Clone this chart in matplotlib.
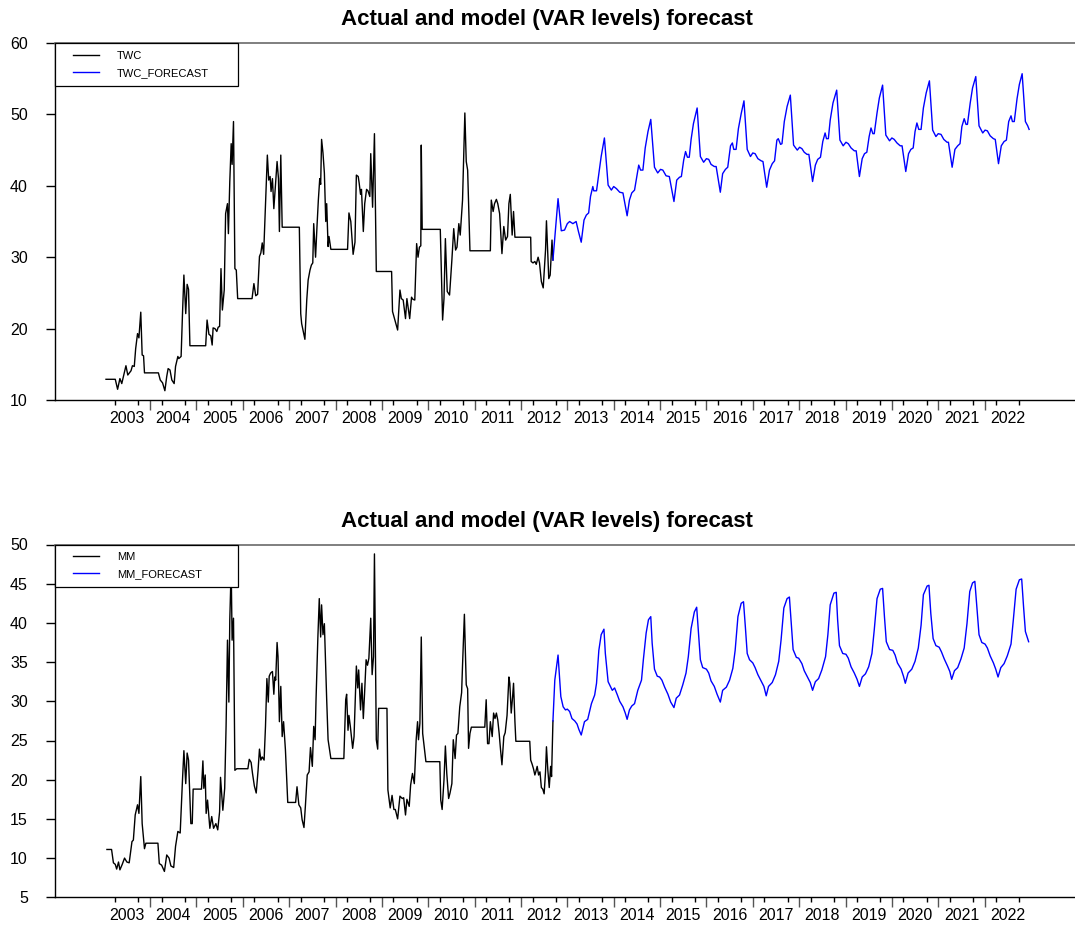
import matplotlib
matplotlib.use('Agg')
import matplotlib.pyplot as plt
from matplotlib.lines import Line2D
from matplotlib.legend_handler import HandlerLine2D

plt.rcParams['font.family'] = ['Liberation Sans', 'DejaVu Sans']

# ---- TWC: actual ----
twc_dates = [2003.05, 2003.25, 2003.30, 2003.35, 2003.39, 2003.48, 2003.52, 2003.59, 2003.62, 2003.66,
             2003.69, 2003.73, 2003.76, 2003.80, 2003.83, 2003.86, 2003.88,
             2004.18, 2004.22, 2004.27, 2004.32, 2004.36, 2004.39, 2004.43, 2004.47, 2004.52, 2004.55,
             2004.60, 2004.62, 2004.67, 2004.70, 2004.73, 2004.77, 2004.80, 2004.83, 2004.86,
             2005.20, 2005.23, 2005.27, 2005.31, 2005.34, 2005.36, 2005.40, 2005.44, 2005.47, 2005.50,
             2005.53, 2005.56, 2005.60, 2005.63, 2005.67, 2005.69, 2005.72, 2005.75, 2005.77, 2005.80,
             2005.83, 2005.86, 2005.89,
             2006.20, 2006.24, 2006.28, 2006.32, 2006.36, 2006.39, 2006.42, 2006.45, 2006.48, 2006.53,
             2006.56, 2006.59, 2006.61, 2006.64, 2006.67, 2006.71, 2006.74, 2006.77, 2006.79, 2006.82, 2006.85,
             2007.22, 2007.25, 2007.27, 2007.34, 2007.38, 2007.41, 2007.45, 2007.48, 2007.51, 2007.53,
             2007.57, 2007.60, 2007.63, 2007.66, 2007.68, 2007.70, 2007.73, 2007.76, 2007.79, 2007.81,
             2007.84, 2007.86, 2007.90,
             2008.26, 2008.29, 2008.33, 2008.38, 2008.42, 2008.45, 2008.49, 2008.51, 2008.54, 2008.56,
             2008.60, 2008.63, 2008.67, 2008.70, 2008.74, 2008.76, 2008.80, 2008.84, 2008.88,
             2009.21, 2009.23, 2009.28, 2009.34, 2009.39, 2009.42, 2009.46, 2009.51, 2009.54, 2009.60,
             2009.64, 2009.67, 2009.71, 2009.75, 2009.78, 2009.81, 2009.84, 2009.85, 2009.87,
             2010.26, 2010.31, 2010.34, 2010.37, 2010.41, 2010.46, 2010.51, 2010.55, 2010.59, 2010.62,
             2010.66, 2010.69, 2010.74, 2010.79, 2010.82, 2010.85, 2010.90,
             2011.34, 2011.36, 2011.40, 2011.43, 2011.47, 2011.50, 2011.54, 2011.59, 2011.63, 2011.67,
             2011.71, 2011.74, 2011.77, 2011.81, 2011.84, 2011.87,
             2012.21, 2012.22, 2012.26, 2012.30, 2012.33, 2012.37, 2012.40, 2012.44, 2012.48, 2012.53,
             2012.55, 2012.60, 2012.63, 2012.67, 2012.69]
twc_vals = [12.9, 12.9, 11.5, 13.0, 12.3, 14.8, 13.5, 14.1, 14.8, 14.7, 17.2, 19.3, 18.7, 22.3, 16.3, 16.2, 13.8,
            13.8, 12.8, 12.4, 11.3, 13.3, 14.4, 14.2, 12.8, 12.3, 14.7, 16.1, 15.8, 16.1, 22.1, 27.5, 22.1,
            26.2, 25.5, 17.6,
            17.6, 21.2, 19.2, 19.0, 17.7, 20.1, 20.0, 19.6, 20.2, 20.3, 28.4, 22.6, 25.4, 36.1, 37.5, 33.3,
            40.6, 45.9, 43.0, 49.0, 28.4, 28.2, 24.2,
            24.2, 26.3, 24.6, 24.8, 30.1, 30.6, 32.0, 30.4, 35.7, 44.3, 40.8, 41.3, 39.2, 41.0, 36.8, 40.6,
            43.4, 41.0, 33.6, 44.3, 34.2,
            34.2, 22.1, 20.7, 18.5, 24.0, 26.8, 28.2, 28.9, 29.2, 34.7, 30.0, 34.2, 38.0, 41.0, 40.2, 46.5,
            44.6, 41.8, 35.0, 37.5, 31.5, 32.9, 31.1,
            31.1, 36.2, 35.0, 30.4, 32.1, 41.5, 41.3, 40.4, 38.8, 39.5, 33.6, 37.5, 39.5, 39.3, 38.5, 44.5,
            37.0, 47.3, 28.0,
            28.0, 22.4, 21.2, 19.8, 25.4, 24.2, 24.0, 21.4, 24.2, 21.4, 24.4, 24.1, 24.0, 31.9, 30.0, 31.4,
            31.6, 45.7, 33.9,
            33.9, 21.2, 24.2, 32.6, 25.2, 24.7, 29.6, 34.0, 31.0, 31.4, 34.7, 33.1, 38.0, 50.2, 43.4, 42.2, 30.9,
            30.9, 38.0, 36.4, 37.5, 38.1, 37.5, 36.1, 30.5, 34.3, 32.4, 32.9, 37.5, 38.8, 33.1, 36.4, 32.8,
            32.8, 29.4, 29.2, 29.4, 29.0, 30.0, 29.2, 26.6, 25.7, 31.0, 35.1, 27.0, 27.5, 32.4, 29.6]

# ---- TWC: forecast ----
twc_fc_dates = [2012.69, 2012.80, 2012.87, 2012.94, 2013.00, 2013.05, 2013.12, 2013.19, 2013.24, 2013.30,
                2013.36, 2013.41, 2013.46, 2013.50, 2013.55, 2013.57, 2013.63, 2013.68, 2013.73, 2013.80,
                2013.88, 2013.95,
                2014.00, 2014.06, 2014.13, 2014.20, 2014.29, 2014.34, 2014.39, 2014.45, 2014.51, 2014.54,
                2014.58, 2014.63, 2014.68, 2014.74, 2014.80, 2014.88, 2014.95,
                2015.01, 2015.06, 2015.13, 2015.20, 2015.30, 2015.36, 2015.42, 2015.46, 2015.51, 2015.55,
                2015.59, 2015.63, 2015.67, 2015.72, 2015.80, 2015.87, 2015.94,
                2016.00, 2016.05, 2016.10, 2016.17, 2016.21, 2016.30, 2016.35, 2016.41, 2016.46, 2016.52,
                2016.56, 2016.59, 2016.64, 2016.69, 2016.75, 2016.81, 2016.88, 2016.95,
                2017.00, 2017.05, 2017.11, 2017.18, 2017.22, 2017.30, 2017.36, 2017.42, 2017.47, 2017.52,
                2017.55, 2017.60, 2017.63, 2017.68, 2017.74, 2017.81, 2017.88, 2017.96,
                2018.01, 2018.06, 2018.11, 2018.17, 2018.21, 2018.29, 2018.35, 2018.40, 2018.46, 2018.51,
                2018.56, 2018.59, 2018.63, 2018.67, 2018.73, 2018.81, 2018.88, 2018.95,
                2019.01, 2019.06, 2019.12, 2019.19, 2019.23, 2019.30, 2019.36, 2019.41, 2019.46, 2019.51,
                2019.55, 2019.59, 2019.62, 2019.68, 2019.73, 2019.80, 2019.87, 2019.95,
                2020.00, 2020.05, 2020.11, 2020.18, 2020.22, 2020.30, 2020.36, 2020.41, 2020.46, 2020.50,
                2020.54, 2020.58, 2020.63, 2020.68, 2020.74, 2020.81, 2020.88, 2020.95,
                2021.00, 2021.06, 2021.12, 2021.19, 2021.22, 2021.30, 2021.36, 2021.42, 2021.47, 2021.51,
                2021.56, 2021.60, 2021.63, 2021.69, 2021.74, 2021.81, 2021.88, 2021.96,
                2022.01, 2022.06, 2022.12, 2022.19, 2022.23, 2022.30, 2022.36, 2022.42, 2022.47, 2022.52,
                2022.57, 2022.60, 2022.64, 2022.70, 2022.75, 2022.81, 2022.88, 2022.93, 2022.96]
twc_fc_vals = [29.6, 38.2, 33.7, 33.8, 34.7, 35.0, 34.7, 35.0, 33.6, 32.1, 35.2, 35.9, 36.2, 38.5, 39.9, 39.3,
               39.3, 41.7, 44.1, 46.7, 40.1, 39.4,
               39.9, 39.6, 39.1, 39.0, 35.8, 38.0, 39.0, 39.4, 41.7, 42.9, 42.2, 42.2, 45.3, 47.6, 49.3, 42.6, 41.8,
               42.3, 42.2, 41.4, 41.3, 37.8, 40.8, 41.2, 41.3, 43.6, 44.8, 44.0, 44.0, 46.5, 48.7, 50.9, 44.1, 43.3,
               43.8, 43.7, 43.0, 42.7, 42.7, 39.1, 41.7, 42.3, 42.6, 45.6, 46.0, 45.1, 45.1, 48.0, 50.1, 51.9,
               45.1, 44.1,
               44.6, 44.5, 43.8, 43.5, 43.4, 39.8, 42.2, 43.1, 43.5, 46.4, 46.6, 45.8, 45.9, 49.0, 51.1, 52.7,
               45.7, 45.0,
               45.4, 45.2, 44.7, 44.4, 44.4, 40.6, 42.9, 43.7, 44.0, 46.2, 47.4, 46.6, 46.6, 49.2, 51.6, 53.4,
               46.4, 45.6,
               46.1, 45.9, 45.3, 44.9, 44.9, 41.3, 43.8, 44.5, 44.7, 46.9, 48.1, 47.3, 47.3, 50.2, 52.3, 54.1,
               47.1, 46.3,
               46.7, 46.5, 46.0, 45.6, 45.6, 42.0, 44.5, 45.1, 45.3, 47.6, 48.8, 47.9, 47.9, 50.9, 53.0, 54.7,
               47.8, 46.9,
               47.3, 47.2, 46.5, 46.1, 46.1, 42.6, 45.1, 45.6, 45.9, 48.3, 49.4, 48.6, 48.6, 51.6, 53.7, 55.3,
               48.4, 47.4,
               47.8, 47.7, 47.0, 46.6, 46.5, 43.1, 45.6, 46.2, 46.4, 49.0, 49.8, 49.0, 49.0, 52.2, 54.2, 55.7,
               49.0, 48.4, 47.9]

# ---- MM: actual ----
mm_dates = [2003.07, 2003.17, 2003.21, 2003.25, 2003.28, 2003.32, 2003.35, 2003.40, 2003.45, 2003.50,
            2003.55, 2003.61, 2003.64, 2003.68, 2003.73, 2003.76, 2003.80, 2003.83, 2003.88, 2003.91,
            2004.17, 2004.20, 2004.25, 2004.31, 2004.36, 2004.41, 2004.45, 2004.51, 2004.55, 2004.60,
            2004.65, 2004.70, 2004.73, 2004.77, 2004.80, 2004.83, 2004.88, 2004.91, 2004.93,
            2005.11, 2005.14, 2005.16, 2005.19, 2005.21, 2005.24, 2005.29, 2005.33, 2005.37, 2005.42,
            2005.46, 2005.50, 2005.52, 2005.57, 2005.61, 2005.64, 2005.67, 2005.70, 2005.72, 2005.75,
            2005.77, 2005.80, 2005.83, 2005.87,
            2006.11, 2006.14, 2006.18, 2006.21, 2006.25, 2006.29, 2006.33, 2006.36, 2006.39, 2006.42,
            2006.46, 2006.49, 2006.52, 2006.55, 2006.57, 2006.60, 2006.64, 2006.67, 2006.69, 2006.71,
            2006.74, 2006.76, 2006.79, 2006.82, 2006.85, 2006.88, 2006.92, 2006.97,
            2007.14, 2007.17, 2007.21, 2007.25, 2007.28, 2007.32, 2007.35, 2007.39, 2007.43, 2007.46,
            2007.50, 2007.53, 2007.56, 2007.58, 2007.62, 2007.65, 2007.68, 2007.70, 2007.73, 2007.76,
            2007.81, 2007.84, 2007.90,
            2008.18, 2008.22, 2008.24, 2008.27, 2008.29, 2008.32, 2008.37, 2008.40, 2008.45, 2008.48,
            2008.50, 2008.54, 2008.57, 2008.60, 2008.63, 2008.66, 2008.69, 2008.72, 2008.76, 2008.79,
            2008.82, 2008.84, 2008.88, 2008.91, 2008.93,
            2009.11, 2009.13, 2009.18, 2009.22, 2009.26, 2009.29, 2009.34, 2009.39, 2009.44, 2009.47,
            2009.51, 2009.54, 2009.59, 2009.62, 2009.66, 2009.70, 2009.74, 2009.77, 2009.79, 2009.82,
            2009.85, 2009.88, 2009.93, 2009.95,
            2010.25, 2010.27, 2010.30, 2010.34, 2010.37, 2010.40, 2010.44, 2010.47, 2010.51, 2010.54,
            2010.58, 2010.61, 2010.64, 2010.68, 2010.72, 2010.74, 2010.78, 2010.82, 2010.85, 2010.87,
            2010.90, 2010.93,
            2011.22, 2011.25, 2011.28, 2011.31, 2011.34, 2011.38, 2011.41, 2011.44, 2011.47, 2011.50,
            2011.53, 2011.56, 2011.59, 2011.63, 2011.66, 2011.70, 2011.74, 2011.76, 2011.79, 2011.82,
            2011.84, 2011.87, 2011.89,
            2012.19, 2012.21, 2012.24, 2012.27, 2012.30, 2012.32, 2012.35, 2012.38, 2012.41, 2012.44,
            2012.47, 2012.50, 2012.53, 2012.55, 2012.58, 2012.61, 2012.64, 2012.66, 2012.69]
mm_vals = [11.1, 11.1, 9.4, 9.2, 8.6, 9.5, 8.5, 9.2, 10.0, 9.5, 9.4, 12.1, 12.3, 15.5, 16.8, 15.7, 20.4,
           14.4, 11.2, 11.9,
           11.9, 9.3, 9.1, 8.3, 10.4, 10.0, 9.0, 8.8, 11.5, 13.4, 13.2, 20.0, 23.7, 19.5, 23.4, 22.5, 14.4,
           14.4, 18.8,
           18.8, 22.4, 18.9, 20.6, 15.7, 17.4, 13.8, 15.3, 13.8, 14.4, 13.6, 15.9, 20.3, 16.1, 18.9, 26.8,
           37.8, 29.9, 40.4, 47.0, 37.8, 40.6, 21.2, 21.4,
           21.4, 22.6, 22.2, 20.8, 19.2, 18.3, 21.2, 23.9, 22.5, 22.9, 22.5, 26.8, 32.9, 29.9, 33.2, 33.6,
           33.8, 30.9, 33.1, 32.7, 37.5, 35.7, 27.4, 31.9, 25.5, 27.4, 23.8, 17.1,
           17.1, 19.1, 16.8, 16.4, 14.9, 13.9, 16.6, 20.6, 21.0, 24.1, 21.7, 26.8, 25.1, 30.2, 38.2, 43.1,
           38.2, 42.3, 38.5, 39.9, 30.2, 25.1, 22.7,
           22.7, 30.2, 30.9, 26.3, 28.2, 26.8, 24.0, 25.5, 34.5, 31.7, 34.0, 28.9, 32.3, 27.8, 31.4, 35.3,
           34.6, 35.5, 40.6, 33.4, 35.7, 48.8, 25.1, 23.9, 29.1,
           29.1, 18.7, 16.4, 18.0, 16.2, 16.2, 15.0, 17.9, 17.6, 17.7, 15.5, 17.5, 16.6, 19.3, 20.8, 19.5,
           25.1, 27.4, 25.1, 27.2, 38.2, 25.9, 23.4, 22.3,
           22.3, 17.4, 16.2, 20.0, 24.3, 20.8, 17.6, 18.3, 19.5, 25.1, 22.7, 25.7, 25.9, 29.3, 31.1, 34.6,
           41.1, 32.1, 31.6, 24.0, 25.9, 26.7,
           26.7, 30.2, 24.6, 24.6, 27.4, 25.5, 28.5, 27.8, 28.5, 27.6, 25.9, 23.8, 21.9, 25.5, 26.0, 28.2,
           33.1, 32.3, 28.5, 30.6, 32.3, 27.4, 24.9,
           24.9, 22.5, 22.0, 21.4, 20.6, 21.0, 21.7, 20.6, 21.0, 19.0, 18.8, 18.2, 21.0, 24.2, 21.2, 19.0,
           21.7, 20.4, 27.5]

# ---- MM: forecast ----
mm_fc_dates = [2012.69, 2012.73, 2012.80, 2012.86, 2012.91, 2012.96,
               2013.00, 2013.05, 2013.10, 2013.16, 2013.21, 2013.25, 2013.30, 2013.37, 2013.44, 2013.52,
               2013.59, 2013.63, 2013.68, 2013.73, 2013.79, 2013.82, 2013.88, 2013.93, 2013.97,
               2014.02, 2014.08, 2014.13, 2014.20, 2014.25, 2014.29, 2014.34, 2014.39, 2014.45, 2014.52,
               2014.60, 2014.64, 2014.70, 2014.75, 2014.80, 2014.83, 2014.88, 2014.94, 2014.99,
               2015.04, 2015.10, 2015.17, 2015.23, 2015.30, 2015.35, 2015.42, 2015.49, 2015.56, 2015.61,
               2015.67, 2015.74, 2015.79, 2015.83, 2015.87, 2015.92,
               2016.00, 2016.05, 2016.10, 2016.17, 2016.23, 2016.30, 2016.35, 2016.43, 2016.50, 2016.57,
               2016.62, 2016.68, 2016.75, 2016.80, 2016.84, 2016.88, 2016.93,
               2017.00, 2017.05, 2017.11, 2017.18, 2017.24, 2017.29, 2017.34, 2017.42, 2017.49, 2017.56,
               2017.61, 2017.67, 2017.74, 2017.79, 2017.83, 2017.87, 2017.94, 2017.99,
               2018.06, 2018.11, 2018.18, 2018.24, 2018.29, 2018.35, 2018.42, 2018.49, 2018.57, 2018.62,
               2018.67, 2018.75, 2018.80, 2018.83, 2018.87, 2018.94,
               2019.01, 2019.06, 2019.12, 2019.19, 2019.25, 2019.30, 2019.36, 2019.43, 2019.50, 2019.57,
               2019.62, 2019.68, 2019.75, 2019.80, 2019.84, 2019.88, 2019.95,
               2020.02, 2020.07, 2020.12, 2020.20, 2020.25, 2020.29, 2020.35, 2020.43, 2020.50, 2020.57,
               2020.63, 2020.68, 2020.76, 2020.80, 2020.84, 2020.89, 2020.95,
               2021.02, 2021.07, 2021.13, 2021.20, 2021.25, 2021.29, 2021.35, 2021.42, 2021.49, 2021.56,
               2021.62, 2021.68, 2021.74, 2021.79, 2021.84, 2021.88, 2021.94,
               2022.01, 2022.06, 2022.12, 2022.19, 2022.24, 2022.29, 2022.35, 2022.42, 2022.49, 2022.57,
               2022.62, 2022.68, 2022.75, 2022.80, 2022.84, 2022.88, 2022.93, 2022.95]
mm_fc_vals = [27.5, 32.7, 35.9, 30.6, 29.3, 28.9,
              29.0, 28.7, 27.8, 27.5, 27.1, 26.4, 25.7, 27.4, 27.7, 29.7, 30.8, 32.3, 36.5, 38.5, 39.2,
              36.1, 32.5, 31.9, 31.4,
              31.7, 30.8, 30.0, 29.3, 28.5, 27.7, 28.9, 29.4, 29.7, 31.4, 32.7, 35.3, 38.7, 40.4, 40.8,
              37.4, 34.1, 33.2, 33.1,
              32.7, 31.8, 30.9, 29.9, 29.2, 30.4, 30.8, 32.1, 33.6, 35.7, 39.3, 41.4, 42.0, 38.7, 35.3, 34.3,
              34.1, 33.6, 32.6, 31.9, 30.9, 29.9, 31.4, 31.8, 32.7, 34.2, 36.5, 40.8, 42.5, 42.7, 39.5,
              36.1, 35.3,
              34.9, 34.3, 33.4, 32.6, 31.9, 30.7, 31.9, 32.4, 33.4, 35.1, 37.8, 41.9, 43.1, 43.3, 39.9,
              36.6, 35.6, 35.5,
              34.8, 33.9, 33.1, 32.4, 31.4, 32.5, 32.9, 34.0, 35.7, 38.5, 42.3, 43.8, 43.9, 40.4, 37.1, 36.1,
              36.0, 35.5, 34.4, 33.6, 32.8, 31.9, 33.1, 33.5, 34.4, 36.1, 39.1, 43.1, 44.3, 44.4, 40.8,
              37.6, 36.6,
              36.5, 35.9, 34.9, 34.1, 33.2, 32.3, 33.6, 34.1, 35.1, 36.8, 39.7, 43.6, 44.7, 44.8, 41.2,
              38.0, 37.1,
              36.9, 36.3, 35.4, 34.5, 33.8, 32.8, 33.9, 34.3, 35.4, 36.8, 39.9, 44.0, 45.1, 45.3, 41.6,
              38.5, 37.5,
              37.3, 36.8, 35.8, 34.9, 34.1, 33.1, 34.3, 34.8, 35.8, 37.3, 40.4, 44.3, 45.5, 45.6, 42.1,
              38.9, 38.0, 37.6]

years = list(range(2003, 2023))
title = 'Actual and model (VAR levels) forecast'


def panel(ax, d, v, fd, fv, names, ylim, yticks):
    ax.plot(d, v, color='black', lw=1.0, label=names[0])
    ax.plot(fd, fv, color='#0000ff', lw=1.0, label=names[1])
    ax.set_xlim(2001.95, 2023.95)
    ax.set_ylim(*ylim)
    ax.set_yticks(yticks)
    ax.spines['right'].set_visible(False)
    ax.spines['top'].set_color('#6a6a6a')
    ax.spines['top'].set_linewidth(1.2)
    ax.spines['left'].set_linewidth(1.0)
    ax.spines['bottom'].set_linewidth(1.0)
    ax.tick_params(axis='y', length=6.5, width=1.0, pad=13, labelsize=11.5)

    # year labels in the middle of each year, quarter ticks, longer ticks on year boundaries
    ax.set_xticks([y + 0.5 for y in years], [str(y) for y in years])
    ax.set_xticks([y + q / 4 for y in years for q in (1, 2, 3)], minor=True)
    ax.tick_params(axis='x', which='major', length=0, pad=8, labelsize=11.5)
    ax.tick_params(axis='x', which='minor', length=3.5, width=1.0)
    sec = ax.secondary_xaxis('bottom')
    sec.set_xticks(years[1:])
    sec.tick_params(length=7, width=1.0, color='#555555', labelbottom=False)
    sec.spines['bottom'].set_visible(False)

    leg = ax.legend(loc='upper left', bbox_to_anchor=(0, 1, 0.179, 0), mode='expand',
                    borderaxespad=0, fancybox=False, edgecolor='black', framealpha=1,
                    fontsize=8, handlelength=3.25, handletextpad=1.6, borderpad=0.7,
                    labelspacing=0.63, handler_map={Line2D: HandlerLine2D(xpad=0.9)})
    leg.get_frame().set_linewidth(0.9)


fig = plt.figure(figsize=(10.75, 9.26), dpi=100)
ax1 = fig.add_axes([55 / 1075, 1 - 400 / 926, 1020 / 1075, 357 / 926])
ax2 = fig.add_axes([55 / 1075, 1 - 897.3 / 926, 1020 / 1075, 352.8 / 926])

panel(ax1, twc_dates, twc_vals, twc_fc_dates, twc_fc_vals, ['TWC', 'TWC_FORECAST'],
      (10, 60), range(10, 61, 10))
panel(ax2, mm_dates, mm_vals, mm_fc_dates, mm_fc_vals, ['MM', 'MM_FORECAST'],
      (5, 50), range(5, 51, 5))

fig.text(547 / 1075, 1 - 20 / 926, title, ha='center', va='center', fontsize=16, fontweight='bold')
fig.text(547 / 1075, 1 - 522 / 926, title, ha='center', va='center', fontsize=16, fontweight='bold')

fig.savefig('out.png', dpi=100)
